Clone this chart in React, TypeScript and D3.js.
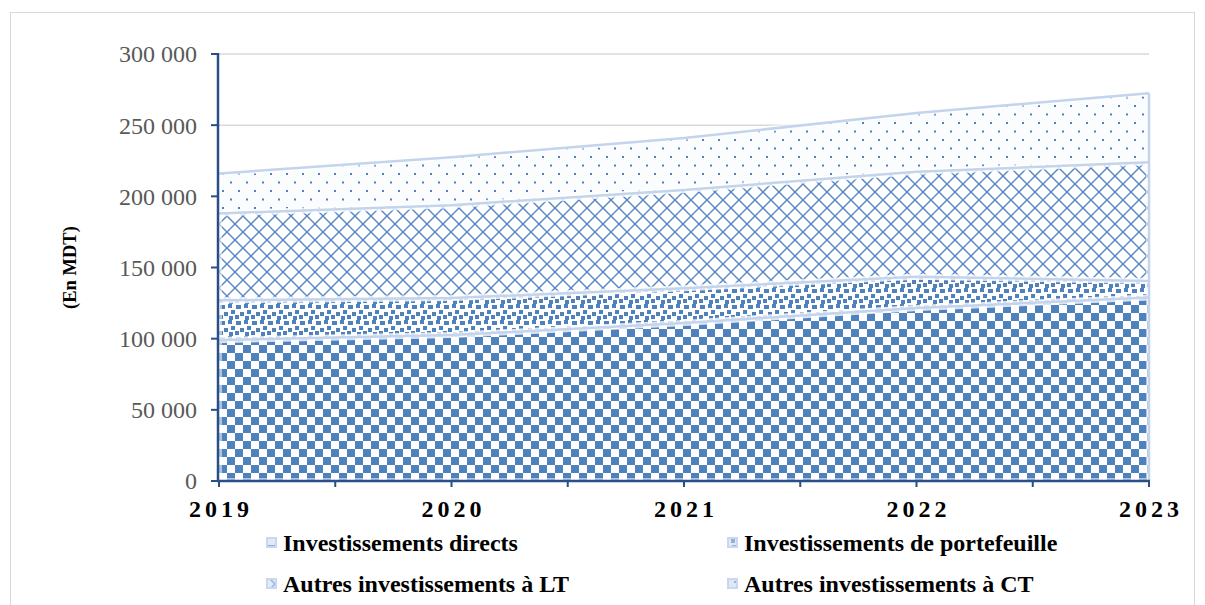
import React from "react";
import * as d3 from "d3";

const years = ["2019", "2020", "2021", "2022", "2023"];
const seriesNames = [
  "Investissements directs",
  "Investissements de portefeuille",
  "Autres investissements à LT",
  "Autres investissements à CT",
];
const directs = [99000, 102500, 111000, 121500, 129000];
const portefeuille = [28000, 26000, 24500, 22000, 11500];
const autresLT = [61000, 65300, 69000, 73700, 83500];
const autresCT = [28000, 33700, 36500, 41300, 48500];
const yTicks = [0, 50000, 100000, 150000, 200000, 250000, 300000];
const yTitle = "(En MDT)";

const W = 1205;
const H = 605;
const X0 = 219;
const X1 = 1149;
const Y0 = 481;
const Y1 = 54;
const BLUE = "#4f81bd";
const AXIS = "#294f86";
const EDGE = "#c3d4ec";

export default function App() {
  const keys = ["d", "p", "lt", "ct"];
  const table = years.map((y, i) => ({
    i,
    d: directs[i],
    p: portefeuille[i],
    lt: autresLT[i],
    ct: autresCT[i],
  }));
  const stacked = d3.stack<any>().keys(keys)(table);
  const x = d3.scaleLinear().domain([0, years.length - 1]).range([X0, X1]);
  const y = d3.scaleLinear().domain([0, 300000]).range([Y0, Y1]);
  const area = d3
    .area<any>()
    .x((d) => x(d.data.i))
    .y0((d) => y(d[0]))
    .y1((d) => y(d[1]));
  const line = d3
    .line<any>()
    .x((d) => x(d.data.i))
    .y((d) => y(d[1]));
  const fmt = (v: number) =>
    v === 0 ? "0" : d3.format(",")(v).replace(/,/g, " ");
  const patterns = ["pChecker", "pConfetti", "pDiamond", "pDots"];
  const halfTicks = d3.range(0, years.length - 0.5, 0.5);

  const legendItems = [
    { x: 266, y: 537 },
    { x: 727, y: 537 },
    { x: 266, y: 578 },
    { x: 727, y: 578 },
  ];

  return (
    <svg
      width={W}
      height={H}
      style={{ position: "absolute", left: 0, top: 0, background: "#fff" }}
      fontFamily="'Liberation Serif', 'Times New Roman', serif"
    >
      <defs>
        <pattern id="pChecker" patternUnits="userSpaceOnUse" width={16} height={16} x={X0} y={Y0}>
          <rect width={16} height={16} fill="#fff" />
          <rect x={0} y={0} width={8} height={8} fill={BLUE} />
          <rect x={8} y={8} width={8} height={8} fill={BLUE} />
        </pattern>
        <pattern id="pConfetti" patternUnits="userSpaceOnUse" width={16} height={16} x={X0} y={0}>
          <rect width={16} height={16} fill="#fff" />
          <rect x={1} y={1} width={5} height={4} fill={BLUE} />
          <rect x={9} y={0} width={4} height={4} fill={BLUE} />
          <rect x={5} y={8} width={4} height={4} fill={BLUE} />
          <rect x={12} y={6} width={4} height={4} fill={BLUE} />
          <rect x={0} y={11} width={4} height={4} fill={BLUE} />
          <rect x={10} y={12} width={4} height={4} fill={BLUE} />
        </pattern>
        <pattern id="pDiamond" patternUnits="userSpaceOnUse" width={16} height={16} x={X0} y={0}>
          <rect width={16} height={16} fill="#fff" />
          <path d="M0,0L16,16M16,0L0,16" stroke="#5585c3" strokeWidth={1.4} />
        </pattern>
        <pattern id="pDots" patternUnits="userSpaceOnUse" width={16} height={17} x={X0} y={0}>
          <rect width={16} height={17} fill="#fbfcfe" />
          <rect x={3} y={3} width={2} height={2} fill={BLUE} />
          <rect x={11} y={11.5} width={2} height={2} fill={BLUE} />
        </pattern>
      </defs>

      <rect x={10.5} y={12.5} width={1184} height={610} fill="none" stroke="#d9d9d9" />

      {yTicks.map((t) => (
        <line key={"g" + t} x1={X0} x2={X1} y1={y(t)} y2={y(t)} stroke="#d9d9d9" strokeWidth={1.5} />
      ))}

      {stacked.map((s, i) => (
        <path key={"a" + i} d={area(s) || ""} fill={`url(#${patterns[i]})`} />
      ))}
      {stacked.map((s, i) => (
        <path key={"e" + i} d={area(s) || ""} fill="none" stroke="#ffffff" strokeOpacity={0.55} strokeWidth={6} />
      ))}
      {stacked.map((s, i) => (
        <path key={"l" + i} d={line(s) || ""} fill="none" stroke={EDGE} strokeWidth={2.5} />
      ))}
      <line x1={X1} x2={X1} y1={y(stacked[3][4][1])} y2={Y0} stroke={EDGE} strokeWidth={2.5} />

      {/* Y axis */}
      <line x1={X0 - 1} x2={X0 - 1} y1={Y1 - 1} y2={Y0 + 1} stroke={AXIS} strokeWidth={2.5} />
      {yTicks.map((t) => (
        <g key={"yt" + t}>
          <line x1={X0 - 8} x2={X0 - 1} y1={y(t)} y2={y(t)} stroke={AXIS} strokeWidth={2} />
          <text x={197} y={y(t)} dy="0.35em" textAnchor="end" fontSize={24} fill="#595959">
            {fmt(t)}
          </text>
        </g>
      ))}
      <text
        transform={`translate(76,${(Y0 + Y1) / 2}) rotate(-90)`}
        textAnchor="middle"
        fontSize={18.5}
        fontWeight="bold"
        fill="#000"
      >
        {yTitle}
      </text>

      {/* X axis */}
      <line x1={X0 - 2} x2={X1 + 1} y1={Y0} y2={Y0} stroke={AXIS} strokeWidth={2.5} />
      {halfTicks.map((t) => (
        <line key={"xt" + t} x1={x(t)} x2={x(t)} y1={Y0} y2={Y0 + 6} stroke={AXIS} strokeWidth={2} />
      ))}
      {years.map((yr, i) => (
        <text key={yr} x={x(i) + 2} y={517} textAnchor="middle" fontSize={24} fontWeight="bold" letterSpacing={4} fill="#000">
          {yr}
        </text>
      ))}

      {/* Legend */}
      {legendItems.map((p, i) => (
        <g key={"lg" + i}>
          <rect x={p.x} y={p.y} width={11} height={11} fill="#c9d8ee" />
          <rect x={p.x + 2} y={p.y + 2} width={7} height={7} fill={`url(#${patterns[i]})`} opacity={0.45} />
          <text x={p.x + 17} y={p.y + 14} fontSize={24} fontWeight="bold" fill="#000">
            {seriesNames[i]}
          </text>
        </g>
      ))}
    </svg>
  );
}
